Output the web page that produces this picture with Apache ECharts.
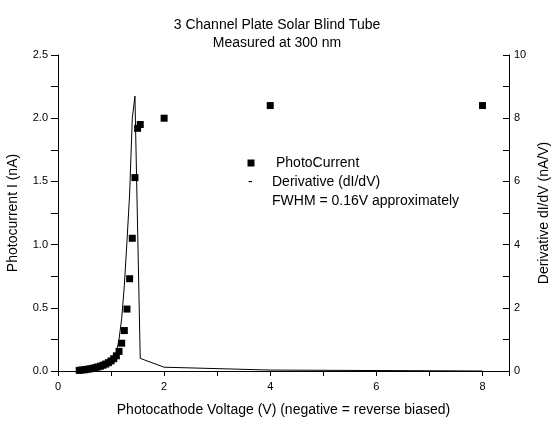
<!DOCTYPE html>
<html>
<head>
<meta charset="utf-8">
<script src="https://cdn.jsdelivr.net/npm/echarts@6/dist/echarts.min.js"></script>
<style>
  html, body { margin: 0; padding: 0; background: #fff; }
  #chart { width: 554px; height: 424px; }
</style>
</head>
<body>
<div id="chart"></div>
<script>
// photocurrent (nA) vs photocathode voltage (V)
var voltage = [0.40, 0.45, 0.50, 0.55, 0.60, 0.65, 0.70, 0.75, 0.80, 0.85, 0.90, 0.95,
  1.00, 1.05, 1.10, 1.15, 1.20, 1.25, 1.30, 1.35, 1.40, 1.45, 1.50, 1.55, 2.0, 4.0, 8.0];
var photoCurrent = [0.005, 0.008, 0.010, 0.013, 0.017, 0.021, 0.026, 0.032, 0.038, 0.046, 0.055, 0.066,
  0.080, 0.097, 0.120, 0.155, 0.22, 0.32, 0.49, 0.73, 1.05, 1.53, 1.92, 1.95, 2.00, 2.10, 2.10];

// derivative dI/dV (nA/V), right axis
var derivVoltage = [0.40, 0.50, 0.60, 0.70, 0.80, 0.90, 1.00, 1.05, 1.10, 1.15, 1.20, 1.25,
  1.30, 1.35, 1.40, 1.45, 1.55, 2.0, 4.0, 8.0];
var derivative = [0.06, 0.06, 0.08, 0.11, 0.14, 0.20, 0.30, 0.40, 0.58, 1.00, 1.65, 2.70,
  4.10, 5.60, 8.00, 8.70, 0.40, 0.12, 0.03, 0.00];

var FONT = "'Liberation Sans', Arial, sans-serif";

var myChart = echarts.init(document.getElementById("chart"));

var scatterData = voltage.map(function (v, i) { return [v, photoCurrent[i]]; });
var lineData = derivVoltage.map(function (v, i) { return [v, derivative[i]]; });

var axisLine = { show: true, lineStyle: { color: "#000", width: 1 } };
var tickStyle = { color: "#000", width: 1 };

var option = {
  backgroundColor: "#fff",
  animation: false,
  textStyle: { fontFamily: FONT, color: "#000" },
  title: {
    text: "3 Channel Plate Solar Blind Tube\nMeasured at 300 nm",
    left: "center",
    top: 11,
    textStyle: { fontFamily: FONT, fontSize: 14, fontWeight: "normal", color: "#000", lineHeight: 18 }
  },
  grid: { left: 58, right: 45, top: 55, bottom: 53, containLabel: false, outerBoundsMode: "none" },
  xAxis: {
    type: "value",
    min: 0,
    max: 8.5,
    interval: 2,
    name: "Photocathode Voltage (V) (negative = reverse biased)",
    nameLocation: "middle",
    nameGap: 32,
    nameTextStyle: { fontFamily: FONT, fontSize: 14, color: "#000" },
    axisLine: axisLine,
    axisTick: { show: true, length: 5, lineStyle: tickStyle },
    minorTick: { show: true, splitNumber: 2, length: 5, lineStyle: tickStyle },
    axisLabel: { fontFamily: FONT, fontSize: 11, color: "#000", margin: 10, showMaxLabel: false },
    splitLine: { show: false },
    minorSplitLine: { show: false }
  },
  yAxis: [
    {
      type: "value",
      min: 0,
      max: 2.5,
      interval: 0.5,
      name: "Photocurrent I (nA)",
      nameLocation: "middle",
      nameGap: 38,
      nameTextStyle: { fontFamily: FONT, fontSize: 14, color: "#000" },
      axisLine: axisLine,
      axisTick: { show: true, length: 7, lineStyle: tickStyle },
      minorTick: { show: true, splitNumber: 2, length: 7, lineStyle: tickStyle },
      axisLabel: {
        fontFamily: FONT, fontSize: 11, color: "#000", margin: 10,
        formatter: function (v) { return v.toFixed(1); }
      },
      splitLine: { show: false },
      minorSplitLine: { show: false }
    },
    {
      type: "value",
      position: "right",
      min: 0,
      max: 10,
      interval: 2,
      name: "Derivative dI/dV (nA/V)",
      nameLocation: "middle",
      nameGap: 27,
      nameTextStyle: { fontFamily: FONT, fontSize: 14, color: "#000" },
      axisLine: axisLine,
      axisTick: { show: true, inside: true, length: 6, lineStyle: tickStyle },
      minorTick: { show: true, splitNumber: 2, length: 6, lineStyle: tickStyle },
      axisLabel: { fontFamily: FONT, fontSize: 11, color: "#000", margin: 5 },
      splitLine: { show: false },
      minorSplitLine: { show: false }
    }
  ],
  graphic: [
    { type: "rect", shape: { x: 247.5, y: 159.5, width: 7, height: 7 }, style: { fill: "#000" } },
    { type: "text", x: 276, y: 163, style: { text: "PhotoCurrent", font: "14px " + FONT, fill: "#000", verticalAlign: "middle" } },
    { type: "text", x: 248, y: 182, style: { text: "-", font: "14px " + FONT, fill: "#000", verticalAlign: "middle" } },
    { type: "text", x: 272, y: 182, style: { text: "Derivative (dI/dV)", font: "14px " + FONT, fill: "#000", verticalAlign: "middle" } },
    { type: "text", x: 272, y: 201, style: { text: "FWHM = 0.16V approximately", font: "14px " + FONT, fill: "#000", verticalAlign: "middle" } }
  ],
  series: [
    {
      name: "Derivative",
      type: "line",
      yAxisIndex: 1,
      showSymbol: false,
      symbol: "none",
      lineStyle: { color: "#000", width: 1 },
      data: lineData,
      z: 2
    },
    {
      name: "PhotoCurrent",
      type: "scatter",
      yAxisIndex: 0,
      symbol: "rect",
      symbolSize: 7,
      itemStyle: { color: "#000", opacity: 1 },
      data: scatterData,
      z: 3
    }
  ]
};

myChart.setOption(option);
</script>
</body>
</html>
